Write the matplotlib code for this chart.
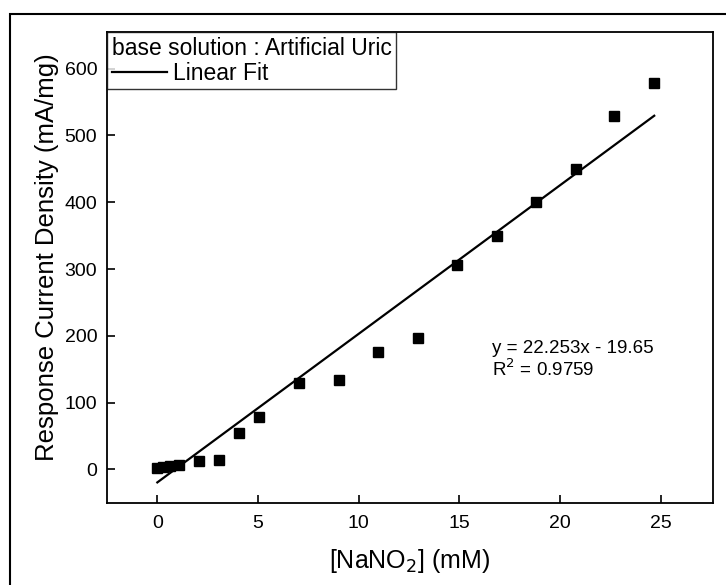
import matplotlib.pyplot as plt
from matplotlib.patches import Rectangle
from matplotlib.lines import Line2D

plt.rcParams['font.family'] = ['Liberation Sans', 'DejaVu Sans']

# measured points
conc = [0, 0.3, 0.65, 1.1, 2.06, 3.07, 4.08, 5.07, 7.03, 9.0, 10.96, 12.93,
        14.86, 16.85, 18.81, 20.78, 22.69, 24.68]
current = [2, 4, 5, 7, 12, 14, 55, 78, 129, 134, 176, 197,
           306, 350, 400, 450, 529, 579]

slope = 22.253
intercept = -19.65
fit_x = [min(conc), max(conc)]
fit_y = [slope * v + intercept for v in fit_x]

fig = plt.figure(figsize=(7.26, 5.85), dpi=100)
ax = fig.add_axes([107 / 726, 1 - 503 / 585, (713 - 107) / 726, (503 - 32) / 585])

ax.plot(conc, current, 's', color='black', markersize=7.5, zorder=3)
ax.plot(fit_x, fit_y, '-', color='black', lw=1.6, zorder=2)

ax.set_xlim(-2.5, 27.6)
ax.set_ylim(-50.5, 655)
ax.set_xticks([0, 5, 10, 15, 20, 25])
ax.set_yticks([0, 100, 200, 300, 400, 500, 600])
ax.tick_params(direction='in', length=6, width=1.2, labelsize=14,
               top=False, right=False)
ax.tick_params(axis='x', pad=9)
ax.tick_params(axis='y', pad=7)
for sp in ax.spines.values():
    sp.set_linewidth(1.3)

ax.set_xlabel('[NaNO$_2$] (mM)', fontsize=18)
ax.set_ylabel('Response Current Density (mA/mg)', fontsize=18.5)
ax.xaxis.set_label_coords(0.5, -0.093)
ax.yaxis.set_label_coords(-0.08, 0.522)

ax.text(0.635, 0.304, 'y = 22.253x - 19.65\nR$^2$ = 0.9759', transform=ax.transAxes,
        fontsize=13.5, va='center', ha='left', linespacing=1.1)

handle = Line2D([], [], color='black', lw=1.6)
leg = ax.legend([handle], ['Linear Fit'], title='base solution : Artificial Uric',
                loc='upper left', bbox_to_anchor=(0, 1), borderaxespad=0,
                fontsize=16.5, title_fontsize=16.5, frameon=True, fancybox=False,
                edgecolor='black', handlelength=2.4, handletextpad=0.3,
                borderpad=0.2, labelspacing=0.1)
leg._legend_box.align = 'left'
leg.get_frame().set_linewidth(1.0)

# outer frame (only top and left visible)
fig.patches.append(Rectangle((10 / 726, -0.1), 1.2, 1 - 14 / 585 + 0.1,
                             transform=fig.transFigure, fill=False,
                             edgecolor='black', lw=1.5))

plt.savefig('out.png', dpi=100)
